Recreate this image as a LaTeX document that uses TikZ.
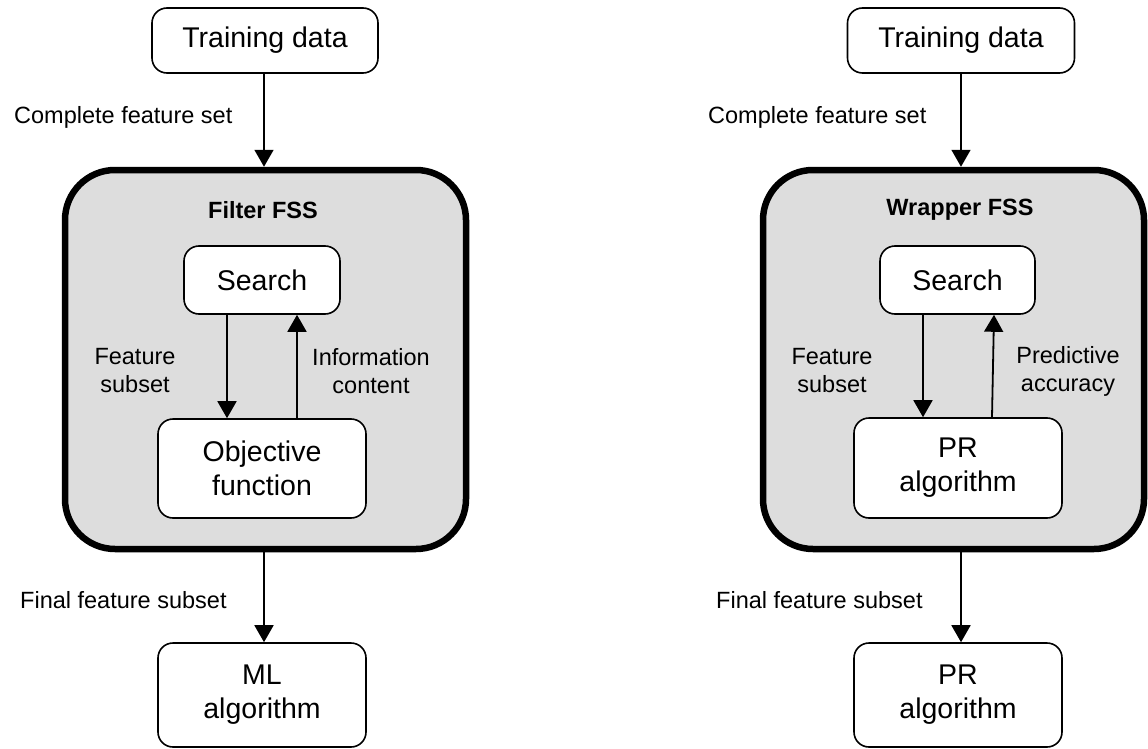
\documentclass[tikz,border=0pt]{standalone}
\usepackage{fontspec}
\setmainfont{Liberation Sans}
\usetikzlibrary{arrows.meta,calc}
\definecolor{panelgray}{RGB}{221,221,221}
\begin{document}
\begin{tikzpicture}[x=1pt,y=-1pt,
  box/.style={draw, line width=1.6pt, fill=white, rounded corners=15pt, align=center, inner sep=0pt, font=\fontsize{28.5}{34}\selectfont},
  panel/.style={draw, line width=6.5pt, fill=panelgray, rounded corners=50pt, inner sep=0pt},
  lbl/.style={font=\fontsize{23.5}{28}\selectfont, align=center, inner sep=0pt},
  ttl/.style={font=\bfseries\fontsize{23.5}{28}\selectfont, inner sep=0pt},
  arr/.style={-{Triangle[length=17pt,width=19pt]}, line width=1.8pt}]
\useasboundingbox (0,0) rectangle (1148,749);

% ---------------- left: Filter FSS ----------------
\node[box, minimum width=226pt, minimum height=65pt] (td1) at (265,40.5) {Training data};
\node[panel, minimum width=401pt, minimum height=379pt] (big1) at (265.5,359.5) {};
\node[ttl] (t1) at (263,210) {Filter FSS};
\node[box, minimum width=156pt, minimum height=68pt] (s1) at (262,280) {Search};
\node[box, minimum width=208pt, minimum height=99pt] (o1) at (262,468.5) {Objective\\function};
\node[box, minimum width=208pt, minimum height=104pt] (m1) at (262,695) {ML\\algorithm};

\node[lbl, anchor=west] (c1) at (14,117) {Complete feature set};
\node[lbl, anchor=west] (f1) at (20,600) {Final feature subset};
\node[lbl] (fs1) at (135,371) {Feature\\subset};
\node[lbl] (ic1) at (371,371) {Information\\content};

\draw[arr] ([xshift=-1pt]td1.south) coordinate (a1) -- (a1 |- big1.north);
\draw[arr] ([xshift=-35pt]s1.south) -- ([xshift=-35pt]s1.south |- o1.north);
\draw[arr] ([xshift=35pt]o1.north) -- ([xshift=35pt]o1.north |- s1.south);
\draw[arr] ([xshift=-1.5pt]big1.south) -- ([xshift=-1.5pt]big1.south |- m1.north);

% ---------------- right: Wrapper FSS ----------------
\node[box, minimum width=227pt, minimum height=65pt] (td2) at (961,40.5) {Training data};
\node[panel, minimum width=381pt, minimum height=379pt] (big2) at (953.5,359.5) {};
\node[ttl] (t2) at (960,210) {Wrapper FSS};
\node[box, minimum width=155pt, minimum height=68pt] (s2) at (957.5,280) {Search};
\node[box, minimum width=208pt, minimum height=100pt] (p2) at (958,468) {PR\\algorithm};
\node[box, minimum width=208pt, minimum height=104pt] (p3) at (958,695) {PR\\algorithm};

\node[lbl, anchor=west] (c2) at (708,117) {Complete feature set};
\node[lbl, anchor=west] (f2) at (716,600) {Final feature subset};
\node[lbl] (fs2) at (832,371) {Feature\\subset};
\node[lbl] (pa2) at (1068,371) {Predictive\\accuracy};

\draw[arr] (td2.south) -- (td2.south |- big2.north);
\draw[arr] ([xshift=-34.5pt]s2.south) -- ([xshift=-34.5pt]s2.south |- p2.north);
\draw[arr] ([xshift=34pt]p2.north) -- ([xshift=36.5pt]s2.south);
\draw[arr] (td2.south |- big2.south) -- (td2.south |- p3.north);
\end{tikzpicture}
\end{document}
